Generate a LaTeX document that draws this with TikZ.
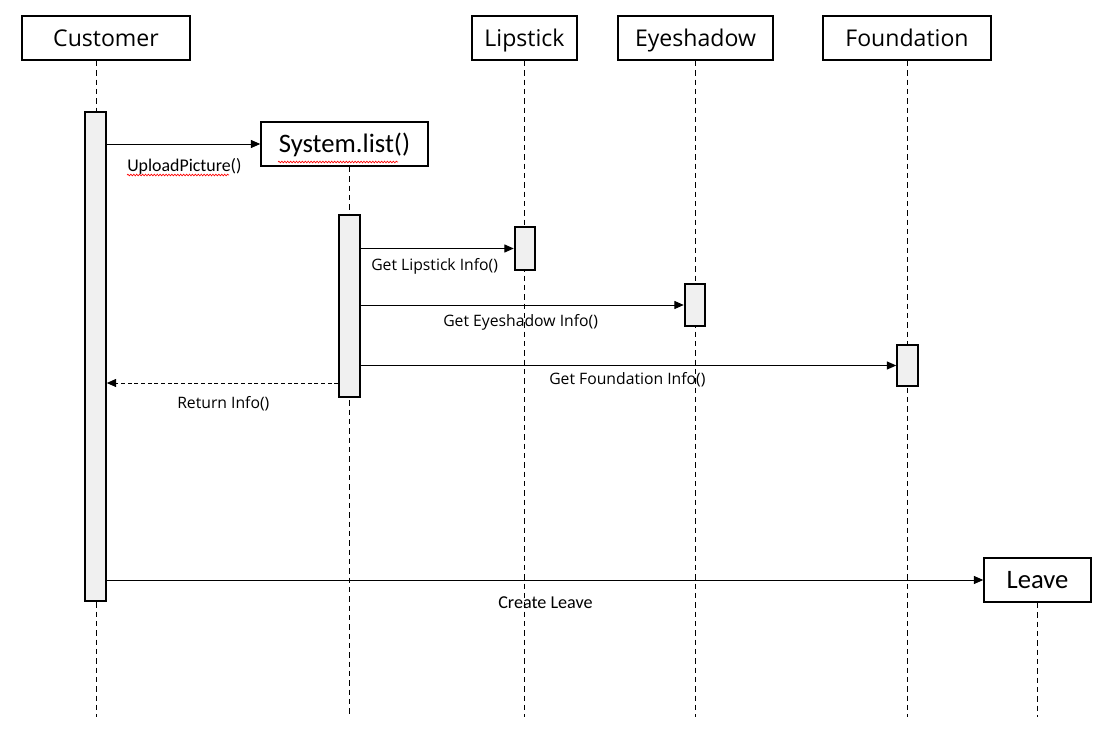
\documentclass[tikz,border=0pt]{standalone}
\usepackage{fontspec}
\setmainfont{Open Sans}
\newfontfamily\calfont{Carlito}
\usetikzlibrary{arrows.meta,decorations.pathmorphing}

\begin{document}
\begin{tikzpicture}[x=0.75pt,y=-0.75pt,>={Triangle[length=7pt,width=6pt]},
    obj node/.style={draw,line width=1.4pt,minimum height=33pt,inner sep=0pt,text height=12.4pt,text depth=0pt,font=\fontsize{17.3}{19}\selectfont},
    act node/.style={draw,line width=1.4pt,fill=black!6,minimum width=15.5pt,inner sep=0pt},
    life line/.style={dash pattern=on 4pt off 3pt,line width=0.6pt},
    msg/.style={->,line width=0.75pt},
    msg label/.style={anchor=west,inner sep=0pt,font=\fontsize{11.8}{13}\selectfont},
    spell/.style={red,line width=0.5pt,decorate,decoration={snake,segment length=2.2pt,amplitude=0.6pt}}]
    \useasboundingbox (0,0) rectangle (1108,736);

    % objects
    \node[obj node,minimum width=126pt] (cust) at (106,38) {Customer};
    \node[obj node,minimum width=79pt] (lip) at (524.5,38) {Lipstick};
    \node[obj node,minimum width=116pt] (eye) at (695.5,38) {Eyeshadow};
    \node[obj node,minimum width=126pt] (found) at (907,38) {Foundation};
    \node[obj node,minimum width=125pt,text height=13pt,font=\calfont\fontsize{20}{22}\selectfont] (sys) at (344.5,144) {System.list()};
    \node[obj node,minimum width=80pt,text height=13pt,font=\calfont\fontsize{20}{22}\selectfont] (leave) at (1037.5,580) {Leave};

    % lifelines
    \coordinate (cust end) at (96,717);
    \coordinate (sys end) at (349,717);
    \coordinate (lip end) at (524,717);
    \coordinate (eye end) at (695,717);
    \coordinate (found end) at (907,717);
    \coordinate (leave end) at (1037,717);
    \draw[life line] (cust.south -| cust end) -- (cust end);
    \draw[life line] (sys.south -| sys end) -- (sys end);
    \draw[life line] (lip.south -| lip end) -- (lip end);
    \draw[life line] (eye.south -| eye end) -- (eye end);
    \draw[life line] (found.south -| found end) -- (found end);
    \draw[life line] (leave.south -| leave end) -- (leave end);

    % activations
    \node[act node,minimum height=366.75pt] (custact) at (95.5,356.5) {};
    \node[act node,minimum height=136.5pt] (sysact) at (349.5,306) {};
    \node[act node,minimum height=32pt] (lipact) at (525,248.5) {};
    \node[act node,minimum height=31.5pt] (eyeact) at (695,305) {};
    \node[act node,minimum height=31pt] (foundact) at (907.5,365.5) {};

    % messages
    \coordinate (ret) at (0,383);
    \draw[msg] (custact.east |- sys.west) -- (sys.west);
    \draw[msg] (sysact.east |- lipact.west) -- (lipact.west);
    \draw[msg] (sysact.east |- eyeact.west) -- (eyeact.west);
    \draw[msg] (sysact.east |- foundact.west) -- (foundact.west);
    \draw[msg,dash pattern=on 3pt off 2pt] (sysact.west |- ret) -- (custact.east |- ret);
    \draw[msg] (custact.east |- leave.west) -- (leave.west);

    \node[msg label,font=\calfont\fontsize{13.4}{15}\selectfont] (upl) at (127,166) {UploadPicture()};
    \node[msg label] (getlip) at (371,266) {Get Lipstick Info()};
    \node[msg label] (geteye) at (443,322) {Get Eyeshadow Info()};
    \node[msg label] (getfound) at (549,380) {Get Foundation Info()};
    \node[msg label] (retinfo) at (177,404) {Return Info()};
    \node[msg label,font=\calfont\fontsize{13.6}{15}\selectfont] (create) at (498,603) {Create Leave};

    % spelling marks
    \draw[spell] (127,175) -- (229,175);
    \draw[spell] (278,162) -- (398,162);
\end{tikzpicture}
\end{document}
